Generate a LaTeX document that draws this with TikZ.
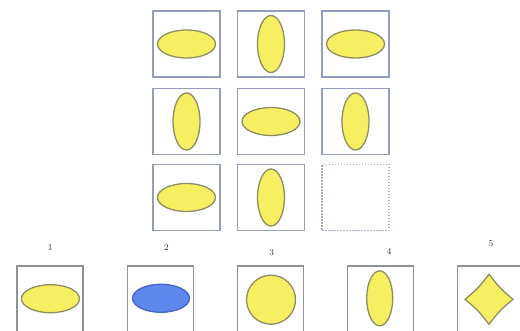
\documentclass[tikz,border=0pt]{standalone}
\usetikzlibrary{shapes.geometric}
\definecolor{boxblue}{HTML}{949CC0}
\definecolor{boxgray}{HTML}{8E9198}
\definecolor{yfill}{HTML}{F7EF62}
\definecolor{yline}{HTML}{8E8C62}
\definecolor{bfill}{HTML}{5C88EE}
\definecolor{bline}{HTML}{4466C4}
\tikzset{
  gridbox/.style={draw=boxblue, line width=1.8pt, fill=white, minimum width=67pt, minimum height=66pt, inner sep=0pt},
  optbox/.style={draw=boxgray, line width=1.5pt, fill=white, minimum width=66pt, minimum height=68pt, inner sep=0pt},
  emptybox/.style={draw=boxblue!80, line width=1.5pt, dash pattern=on 1.5pt off 1.5pt, minimum width=67pt, minimum height=66pt, inner sep=0pt},
  hell/.style={ellipse, draw=yline, line width=1.3pt, fill=yfill, minimum width=58pt, minimum height=28pt, inner sep=0pt},
  vell/.style={ellipse, draw=yline, line width=1.3pt, fill=yfill, minimum width=27pt, minimum height=57pt, inner sep=0pt},
  bell/.style={ellipse, draw=bline, line width=1.3pt, fill=bfill, minimum width=57pt, minimum height=28pt, inner sep=0pt},
  circ/.style={circle, draw=yline, line width=1.3pt, fill=yfill, minimum size=49pt, inner sep=0pt},
  lbl/.style={font=\fontsize{9}{10}\selectfont, inner sep=0pt, text=black!85}
}
\begin{document}
\begin{tikzpicture}[x=1pt,y=-1pt]
\useasboundingbox (0,0) rectangle (520,331);
\clip (0,0) rectangle (520,331);
% grid 3x3
\node[gridbox] (g11) at (186.5,44) {};
\node[gridbox] (g12) at (271,44) {};
\node[gridbox] (g13) at (355.5,44) {};
\node[gridbox] (g21) at (186.5,121.5) {};
\node[gridbox] (g22) at (271,121.5) {};
\node[gridbox] (g23) at (355.5,121.5) {};
\node[gridbox] (g31) at (186.5,197.5) {};
\node[gridbox] (g32) at (271,197.5) {};
\node[emptybox] (g33) at (355.5,197.5) {};
\node[hell] (e11) at (g11) {};
\node[vell] (e12) at (g12) {};
\node[hell] (e13) at (g13) {};
\node[vell] (e21) at (g21) {};
\node[hell] (e22) at (g22) {};
\node[vell] (e23) at (g23) {};
\node[hell] (e31) at (g31) {};
\node[vell] (e32) at (g32) {};
% options
\node[optbox] (o1) at (50,300) {};
\node[optbox] (o2) at (160.7,300) {};
\node[optbox] (o3) at (270.3,300) {};
\node[optbox] (o4) at (380.3,300) {};
\node[optbox] (o5) at (490.3,300) {};
\node[hell] (s1) at (50.5,298.7) {};
\node[bell] (s2) at (161,298.3) {};
\node[circ] (s3) at (271,299.7) {};
\node[vell, minimum width=26pt, minimum height=55pt] (s4) at (379.7,298.3) {};
\coordinate (c5) at (489,299.3);
\draw[draw=yline, line width=1.3pt, fill=yfill, line join=round]
  ([xshift=24pt]c5) .. controls ([xshift=11pt,yshift=-11pt]c5) .. ([yshift=-25pt]c5)
  .. controls ([xshift=-11pt,yshift=-11pt]c5) .. ([xshift=-24pt]c5)
  .. controls ([xshift=-11pt,yshift=11pt]c5) .. ([yshift=25pt]c5)
  .. controls ([xshift=11pt,yshift=11pt]c5) .. cycle;
% labels
\node[lbl] (l1) at (50.3,247.5) {1};
\node[lbl] (l2) at (166.5,247.5) {2};
\node[lbl] (l3) at (271.7,253) {3};
\node[lbl] (l4) at (389.3,251) {4};
\node[lbl] (l5) at (491,243.5) {5};
\end{tikzpicture}
\end{document}
